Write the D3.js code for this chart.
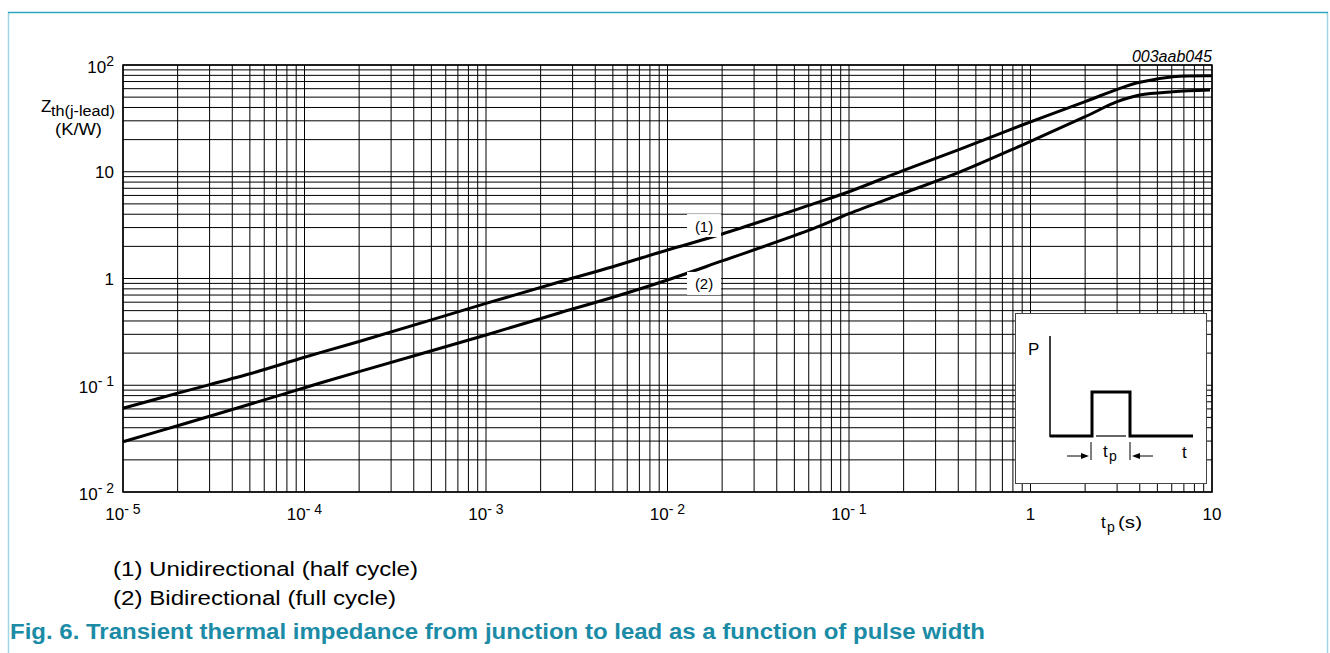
<!DOCTYPE html>
<html>
<head>
<meta charset="utf-8">
<script src="https://cdn.jsdelivr.net/npm/d3@7/dist/d3.min.js"></script>
<style>
  html, body { margin: 0; padding: 0; background: #fff; }
  svg { display: block; }
  text { font-family: "Liberation Sans", Arial, Helvetica, sans-serif; fill: #000; }
</style>
</head>
<body>
<svg id="chart" width="1330" height="653"></svg>
<script>
// ---------- data ----------
const seriesNames = ["(1) Unidirectional (half cycle)", "(2) Bidirectional (full cycle)"];
const curveTags = ["(1)", "(2)"];

// pulse width t_p (s)
const tp1 = [1e-5, 2e-5, 5e-5, 1e-4, 2e-4, 1e-3, 2.56e-3, 5e-3, 1e-2, 2e-2, 6.35e-2, 0.1, 0.2, 0.4, 0.9, 2.0, 3.0, 4.0, 6.1, 10];
const zth1 = [0.0608, 0.0843, 0.128, 0.183, 0.257, 0.584, 0.933, 1.29, 1.85, 2.61, 5.0, 6.5, 10.3, 16.0, 27.4, 45.3, 59.2, 68.9, 77.6, 79.4];

const tp2 = [1e-5, 2e-5, 5e-5, 1e-4, 2e-4, 1e-3, 2.56e-3, 5e-3, 1e-2, 2e-2, 6.35e-2, 0.1, 0.2, 0.4, 0.9, 2.0, 3.0, 4.0, 6.1, 9.75];
const zth2 = [0.0296, 0.0418, 0.0663, 0.0948, 0.134, 0.296, 0.478, 0.667, 0.968, 1.46, 2.93, 4.05, 6.3, 9.8, 17.8, 32.8, 45.3, 52.4, 56.2, 58.3];

// curve tag positions (data coords)
const tagT = [0.0159, 0.0159];
const tagZ = [3.1, 0.89];

// axis tick labels
const xTickValues = [1e-5, 1e-4, 1e-3, 1e-2, 1e-1, 1, 10];
const xTickBase = ["10", "10", "10", "10", "10", "1", "10"];
const xTickExp = ["- 5", "- 4", "- 3", "- 2", "- 1", "", ""];

const yTickValues = [1e2, 10, 1, 1e-1, 1e-2];
const yTickBase = ["10", "10", "1", "10", "10"];
const yTickExp = ["2", "", "", "- 1", "- 2"];

const chartCode = "003aab045";
const caption = "Fig. 6. Transient thermal impedance from junction to lead as a function of pulse width";

// ---------- drawing ----------
const svg = d3.select("#chart");
svg.append("rect").attr("width", 1330).attr("height", 653).attr("fill", "#fff");

// page frame
svg.append("line").attr("x1", 8.5).attr("x2", 8.5).attr("y1", 12).attr("y2", 653)
  .attr("stroke", "#9fd6e3").attr("stroke-width", 1.5);
svg.append("line").attr("x1", 1327.5).attr("x2", 1327.5).attr("y1", 12).attr("y2", 653)
  .attr("stroke", "#9fd6e3").attr("stroke-width", 1.5);
svg.append("line").attr("x1", 8).attr("x2", 1328).attr("y1", 12.5).attr("y2", 12.5)
  .attr("stroke", "#2ea5bf").attr("stroke-width", 1.5);

const x = d3.scaleLog().domain([1e-5, 10]).range([123, 1212]);
const y = d3.scaleLog().domain([1e-2, 1e2]).range([492, 65]);

const grid = svg.append("g");
grid.selectAll("line.v").data(x.ticks()).join("line")
  .attr("x1", d => x(d)).attr("x2", d => x(d))
  .attr("y1", y.range()[0]).attr("y2", y.range()[1])
  .attr("stroke", "#000").attr("stroke-width", 1);
grid.selectAll("line.h").data(y.ticks()).join("line")
  .attr("y1", d => y(d)).attr("y2", d => y(d))
  .attr("x1", x.range()[0]).attr("x2", x.range()[1])
  .attr("stroke", "#000").attr("stroke-width", 1);

// frame of plot
svg.append("rect").attr("x", 123).attr("y", 65).attr("width", 1212 - 123).attr("height", 492 - 65)
  .attr("fill", "none").attr("stroke", "#000").attr("stroke-width", 1.5);

// curves
const line = d3.line().x(d => x(d[0])).y(d => y(d[1])).curve(d3.curveCatmullRom.alpha(0.5));
const curves = [d3.zip(tp1, zth1), d3.zip(tp2, zth2)];
svg.selectAll("path.curve").data(curves).join("path")
  .attr("d", line).attr("fill", "none").attr("stroke", "#000").attr("stroke-width", 3)
  .attr("stroke-linejoin", "round");

// curve tags with white background
curveTags.forEach((tag, i) => {
  const cx = x(tagT[i]), cy = y(tagZ[i]);
  svg.append("rect").attr("x", cx - 17).attr("y", cy - 12).attr("width", 34).attr("height", 23).attr("fill", "#fff");
  svg.append("text").attr("x", cx).attr("y", cy + 5.5).attr("text-anchor", "middle")
    .attr("font-size", 15).text(tag);
});

// x tick labels
xTickValues.forEach((v, i) => {
  const t = svg.append("text").attr("x", x(v)).attr("y", 520).attr("text-anchor", "middle").attr("font-size", 17);
  t.append("tspan").text(xTickBase[i]);
  if (xTickExp[i]) t.append("tspan").attr("font-size", 14).attr("dy", -6.5).attr("xml:space", "preserve").text(xTickExp[i]);
});

// y tick labels
yTickValues.forEach((v, i) => {
  const hasExp = !!yTickExp[i];
  const t = svg.append("text").attr("x", 114).attr("y", y(v) + (hasExp ? 8 : 6)).attr("text-anchor", "end").attr("font-size", 17);
  t.append("tspan").text(yTickBase[i]);
  if (hasExp) t.append("tspan").attr("font-size", 14).attr("dy", -7).attr("xml:space", "preserve").text(yTickExp[i]);
});

// axis titles
svg.append("text").attr("x", 41).attr("y", 112).attr("font-size", 17).text("Z");
svg.append("text").attr("x", 51).attr("y", 116).attr("font-size", 14)
  .attr("textLength", 64).attr("lengthAdjust", "spacingAndGlyphs").text("th(j-lead)");
svg.append("text").attr("x", 55).attr("y", 135).attr("font-size", 17)
  .attr("textLength", 47).attr("lengthAdjust", "spacingAndGlyphs").text("(K/W)");

svg.append("text").attr("x", 1101).attr("y", 528).attr("font-size", 17).text("t");
svg.append("text").attr("x", 1107).attr("y", 532).attr("font-size", 14).text("p");
svg.append("text").attr("x", 1118).attr("y", 528).attr("font-size", 17)
  .attr("textLength", 24).attr("lengthAdjust", "spacingAndGlyphs").text("(s)");

svg.append("text").attr("x", 1212).attr("y", 62).attr("text-anchor", "end")
  .attr("font-size", 16).attr("font-style", "italic").text(chartCode);

// inset: pulse diagram
const inset = svg.append("g");
inset.append("rect").attr("x", 1015.5).attr("y", 313.5).attr("width", 191).attr("height", 170)
  .attr("fill", "#fff").attr("stroke", "#444").attr("stroke-width", 1);
inset.append("line").attr("x1", 1050).attr("x2", 1050).attr("y1", 336).attr("y2", 437)
  .attr("stroke", "#000").attr("stroke-width", 1.5);
inset.append("path").attr("d", "M1050,436 H1092 V392 H1130 V436 H1193")
  .attr("fill", "none").attr("stroke", "#000").attr("stroke-width", 3);
inset.append("line").attr("x1", 1096).attr("x2", 1126).attr("y1", 436).attr("y2", 436)
  .attr("stroke", "#000").attr("stroke-width", 1.2);
[1091, 1130].forEach(px => inset.append("line").attr("x1", px).attr("x2", px).attr("y1", 442).attr("y2", 460)
  .attr("stroke", "#000").attr("stroke-width", 1));
inset.append("line").attr("x1", 1067).attr("x2", 1084).attr("y1", 456).attr("y2", 456).attr("stroke", "#000").attr("stroke-width", 1);
inset.append("path").attr("d", "M1089,456 L1081,453 L1081,459 Z").attr("fill", "#000");
inset.append("line").attr("x1", 1136).attr("x2", 1153).attr("y1", 456).attr("y2", 456).attr("stroke", "#000").attr("stroke-width", 1);
inset.append("path").attr("d", "M1132,456 L1140,453 L1140,459 Z").attr("fill", "#000");
inset.append("text").attr("x", 1028).attr("y", 355).attr("font-size", 17).text("P");
inset.append("text").attr("x", 1103).attr("y", 457).attr("font-size", 17).text("t");
inset.append("text").attr("x", 1109).attr("y", 461).attr("font-size", 14).text("p");
inset.append("text").attr("x", 1182).attr("y", 458).attr("font-size", 17).text("t");

// legend
svg.append("text").attr("x", 113).attr("y", 576).attr("font-size", 20)
  .attr("textLength", 305).attr("lengthAdjust", "spacingAndGlyphs").text(seriesNames[0]);
svg.append("text").attr("x", 113).attr("y", 605).attr("font-size", 20)
  .attr("textLength", 283).attr("lengthAdjust", "spacingAndGlyphs").text(seriesNames[1]);

// caption
svg.append("text").attr("x", 10).attr("y", 639).attr("font-size", 22).attr("font-weight", "bold")
  .attr("textLength", 975).attr("lengthAdjust", "spacingAndGlyphs")
  .style("fill", "#1b8ba6").text(caption);
</script>
</body>
</html>
